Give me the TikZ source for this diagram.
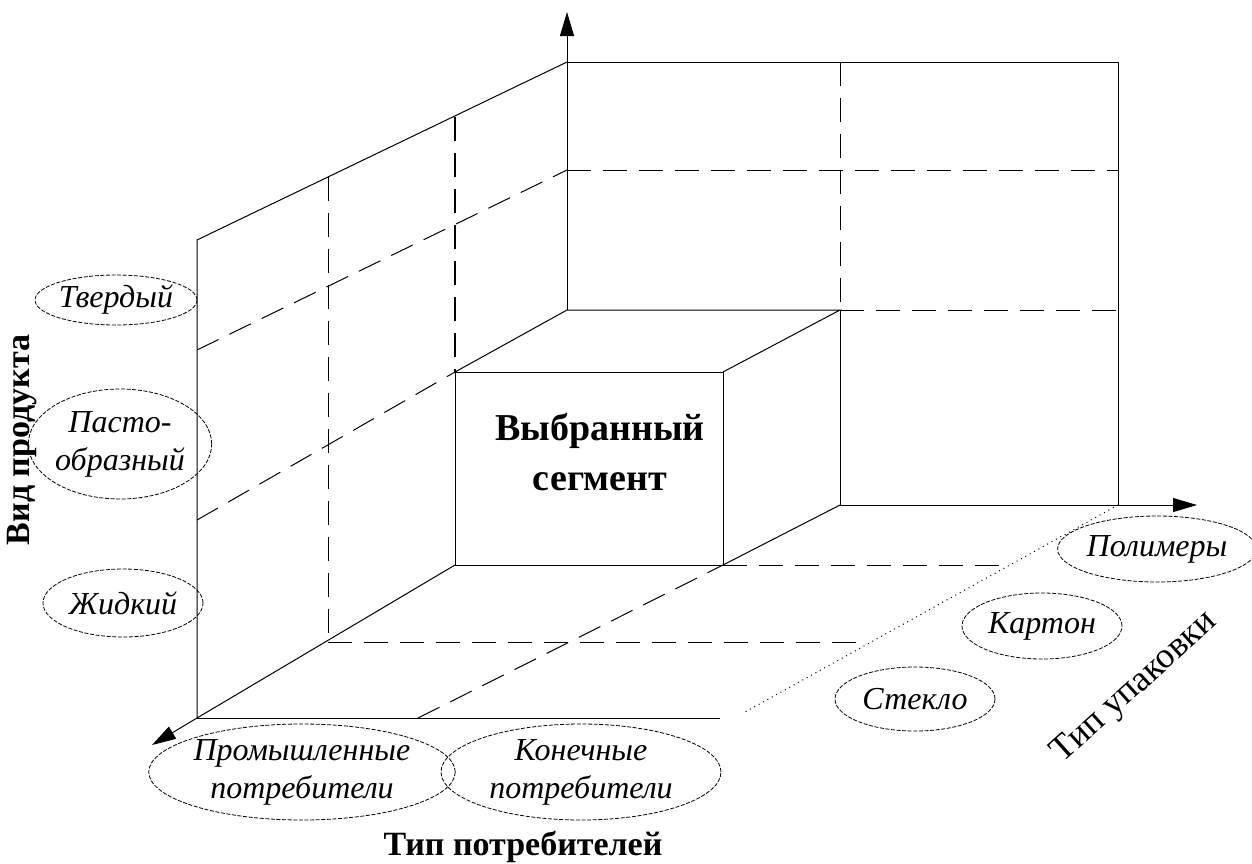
\documentclass[tikz,border=0pt]{standalone}
\usepackage{fontspec}
\setmainfont{Liberation Serif}
\usetikzlibrary{shapes.geometric, arrows.meta, positioning}

\tikzset{
  gridline/.style={line width=0.5pt},
  dashline/.style={line width=0.5pt, dash pattern=on 12pt off 6pt},
  axisarrow/.style={line width=0.5pt, -{Triangle[length=12pt,width=7pt]}},
  oval/.style={ellipse, draw, line width=0.4pt, dash pattern=on 2pt off 0.8pt,
    inner sep=0pt, align=center, font=\fontsize{16}{19}\selectfont\itshape},
  axislabel/.style={font=\fontsize{17}{22}\selectfont\bfseries},
}

\begin{document}
\begin{tikzpicture}[x=0.5pt,y=-0.5pt]
  \path[use as bounding box] (0,0) rectangle (1252,863);

  % Corners of the selected segment
  \coordinate (bftl) at (455,372);
  \coordinate (bftr) at (723,372);
  \coordinate (bfbr) at (723,565);
  \coordinate (bfbl) at (455,565);
  \coordinate (bbtl) at (567,310);
  \coordinate (bbtr) at (840,310);
  \coordinate (bbbr) at (840,505);
  \coordinate (orig) at (567,505);

  % Back wall
  \draw[gridline] (567,62) -- (1118,62) -- (1118,505);
  \draw[dashline] (567,170) -- (1118,170);
  \draw[dashline] (bbtr) -- (1118,310);
  \draw[dashline] (840,62) -- (bbtr);
  \draw[gridline] (bbtr) -- (bbbr);

  % Axes
  \draw[axisarrow] (bbtl) -- (567,12);
  \draw[axisarrow] (bbbr) -- (1197,505);
  \draw[axisarrow] (197,718) -- (152,745);

  % Left wall
  \draw[gridline] (567,62) -- (197,240) -- (197,718) -- (bfbl);
  \draw[dashline] (197,350) -- (567,170);
  \draw[dashline] (197,520) -- (bftl);
  \draw[dashline] (328,177) -- (328,642);
  \draw[dashline, line width=1pt] (455,117) -- (bftl);

  % Floor
  \draw[gridline] (197,718) -- (720,718);
  \draw[dashline] (328,642) -- (860,642);
  \draw[dashline] (bfbr) -- (1005,565);
  \draw[dashline] (418,718) -- (bfbr);
  \draw[line width=0.5pt, dotted] (1118,505) -- (745,712);

  % Selected segment
  \draw[gridline] (bftl) rectangle (bfbr);
  \draw[gridline] (bftl) -- (bbtl) -- (bbtr) -- (bftr);
  \draw[gridline] (bfbr) -- (bbbr);
  \node[font=\fontsize{19}{25}\selectfont\bfseries, align=center] (segm) at (600,452)
    {Выбранный\\сегмент};

  % Category ovals
  \foreach \nm/\cx/\cy/\w/\h/\txt in {
    tverd/116/300/81/25/Твердый,
    pasta/120/444/77/55/{Пасто-\\образный},
    zhid/123/603/80/34/Жидкий,
    prom/302/772/140/48/{Промышленные\\потребители},
    konech/581/772/140/48/{Конечные\\потребители},
    polim/1157/549/93/33/Полимеры,
    karton/1042/626/80/33/Картон,
    steklo/915/699/80/32/Стекло}{
    \node[oval, minimum width=\w pt, minimum height=\h pt] (\nm) at (\cx,\cy) {\txt};
  }

  % Axis titles
  \node[axislabel, rotate=90] (vidprod) at (22,440) {Вид продукта};
  \node[axislabel] (tippotr) at (523,847) {Тип потребителей};
  \node[font=\fontsize{18}{22}\selectfont, rotate=42] (tipupak) at (1135,688) {Тип упаковки};
\end{tikzpicture}
\end{document}
